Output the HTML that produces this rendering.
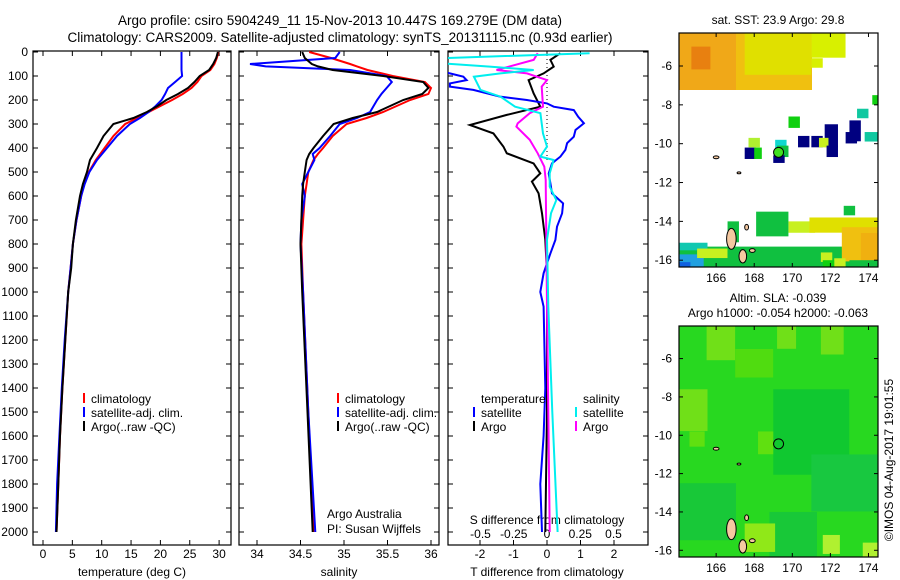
<!DOCTYPE html>
<html><head><meta charset="utf-8"><style>
html,body{margin:0;padding:0;background:#fff;}
svg{display:block;font-family:"Liberation Sans",sans-serif;}
</style></head><body>
<svg id="fig" width="900" height="580" viewBox="0 0 900 580" xmlns="http://www.w3.org/2000/svg">
<text x="340" y="25" font-size="13.5" text-anchor="middle">Argo profile: csiro 5904249_11 15-Nov-2013 10.447S 169.279E (DM data)</text>
<text x="340" y="42" font-size="13.5" text-anchor="middle">Climatology: CARS2009. Satellite-adjusted climatology: synTS_20131115.nc (0.93d earlier)</text>
<g id="p1"></g>
<g id="p2"></g>
<g id="p3"></g>
<g id="m1"></g>
<g id="m2"></g>
<text transform="translate(893,460) rotate(-90)" font-size="12" text-anchor="middle">©IMOS 04-Aug-2017 19:01:55</text>
</svg>
<script>
// ---- data ----
const tDepths=[0,25,50,75,100,125,150,175,200,225,250,275,300,350,400,450,500,550,600,700,800,900,1000,1200,1400,1600,1800,2000];
const tempArgo=[29.8,29.5,29.0,28.3,26.7,25.8,24.7,23.0,21.0,19.5,17.7,15.4,12.0,10.3,9.2,8.0,7.5,6.8,6.3,5.6,5.1,4.8,4.3,3.8,3.3,2.9,2.6,2.3];
const tempClim=[29.9,29.6,29.2,28.5,27.0,26.3,25.3,23.8,22.0,20.0,18.0,16.0,14.0,12.0,10.5,9.0,7.8,7.0,6.5,5.7,5.1,4.7,4.3,3.8,3.3,2.9,2.6,2.3];
const tempSat=[23.6,23.6,23.6,23.6,23.7,22.5,21.3,20.8,20.2,19.2,18.0,16.5,14.8,12.6,10.9,9.2,7.9,7.1,6.5,5.7,5.1,4.7,4.3,3.7,3.2,2.8,2.4,2.2];
const sDepths=[0,25,50,60,75,100,125,150,175,200,250,275,300,350,400,425,450,500,550,600,700,800,1000,1500,2000];
const salArgo=[34.52,34.55,34.63,34.70,34.87,35.45,35.91,35.97,35.90,35.68,35.38,35.10,34.88,34.76,34.65,34.60,34.57,34.55,34.53,34.52,34.51,34.50,34.52,34.58,34.64];
const salClim=[34.60,34.85,35.07,35.15,35.27,35.56,35.93,36.00,35.97,35.76,35.45,35.26,35.03,34.87,34.76,34.70,34.65,34.59,34.57,34.55,34.53,34.51,34.53,34.59,34.65];
const salSat=[34.95,34.90,33.92,34.10,35.07,35.49,35.55,35.49,35.43,35.38,35.30,35.15,34.95,34.84,34.72,34.64,34.66,34.59,34.52,34.55,34.51,34.50,34.53,34.59,34.67];
const dTArgoDepths=[5,33,61,89,117,172,228,262,304,339,394,422,464,506,540,589,672,783,922,1061,1500,2000];
const dTArgo=[0.4,0.1,0.2,-0.1,-0.55,-0.4,-0.2,-1.2,-2.3,-1.6,-1.3,-1.2,-0.4,-0.2,-0.45,-0.25,-0.15,-0.05,0,0,0,-0.05];
const dTSatDepths=[5,61,89,103,117,131,144,158,186,200,214,228,242,270,297,325,353,380,408,436,464,506,547,589,631,672,728,783,839,922,1000,1061,1400,1600,1800,2000];
const dTSat=[-3.5,-3.5,-2.9,-2.5,-2.4,-2.9,-2.9,-2.2,-1.4,-0.6,0,0.2,0.8,0.93,1.1,0.85,0.8,0.6,0.55,0.4,0.15,0.05,0.1,0.15,0.48,0.45,0.3,0.25,0.1,-0.1,-0.2,-0.1,-0.05,-0.1,-0.2,-0.15];
const dSArgoDepths=[5,33,75,89,117,144,228,255,297,311,366,422,478,533,1061,1500,2000];
const dSArgo=[-0.07,-0.1,-0.38,-0.15,0,-0.04,-0.03,-0.13,-0.22,-0.23,-0.13,-0.07,-0.02,-0.01,0,0.01,0.02];
const dSSatDepths=[5,26,47,61,75,89,103,158,186,228,255,339,394,436,450,506,561,617,672,783,1061,1500,2000];
const dSSat=[0.32,-0.8,-0.8,-0.43,-0.1,-0.35,-0.55,-0.5,-0.35,-0.24,-0.05,-0.03,0,-0.05,0.05,0.02,0.02,0.07,0.03,0,0.01,0.04,0.08];
const depthTicks=[0,100,200,300,400,500,600,700,800,900,1000,1100,1200,1300,1400,1500,1600,1700,1800,1900,2000];
const tempTicks=[0,5,10,15,20,25,30];
const salTicks=[34,34.5,35,35.5,36];
const salTickLabels=["34","34.5","35","35.5","36"];
const dTTicks=[-2,-1,0,1,2];
const dSTicks=[-0.5,-0.25,0,0.25,0.5];
const dSTickLabels=["-0.5","-0.25","0","0.25","0.5"];
const lonTicks=[166,168,170,172,174];
const latTicks=[-6,-8,-10,-12,-14,-16];
const argoLon=169.279, argoLat=-10.447;

const NS="http://www.w3.org/2000/svg";
function mk(parent,tag,attrs,text){const e=document.createElementNS(NS,tag);for(const k in attrs)e.setAttribute(k,attrs[k]);if(text!==undefined)e.textContent=text;parent.appendChild(e);return e;}
const TOP=51,BOT=545;
const yD=d=>52+d*0.24;

function panel(g,x0,x1,clipId){
  const r=mk(g,'rect',{x:x0,y:TOP,width:x1-x0,height:BOT-TOP,fill:'none',stroke:'#000','stroke-width':1.2});
  
  
  const cp=mk(document.getElementById('fig'),'clipPath',{id:clipId});
  mk(cp,'rect',{x:x0,y:TOP,width:x1-x0,height:BOT-TOP});
  depthTicks.forEach(d=>{mk(g,'line',{x1:x0,x2:x0+5,y1:yD(d),y2:yD(d),stroke:'#000'});mk(g,'line',{x1:x1,x2:x1-5,y1:yD(d),y2:yD(d),stroke:'#000'});});
}
function line(g,depths,vals,fx,color,name,clip,w){
  let d='';depths.forEach((dp,i)=>{d+=(i?'L':'M')+fx(vals[i]).toFixed(1)+','+yD(dp).toFixed(1);});
  const p=mk(g,'path',{d:d,fill:'none',stroke:color,'stroke-width':w||2,'clip-path':'url(#'+clip+')'});
  
  
}
function legend(g,x,y,color,label,name){
  mk(g,'line',{x1:x,x2:x,y1:y-10,y2:y,stroke:color,'stroke-width':2});
  const t=mk(g,'text',{x:x+7,y:y,'font-size':12},label);
  
  
}

// Panel 1
const g1=document.getElementById('p1');
const xT=v=>43+v*5.87;
panel(g1,33,231,'c1');
depthTicks.forEach(d=>{const t=mk(g1,'text',{x:28,y:yD(d)+4,'font-size':12,'text-anchor':'end'},String(d));});
tempTicks.forEach(v=>{mk(g1,'line',{x1:xT(v),x2:xT(v),y1:BOT,y2:BOT-5,stroke:'#000'});mk(g1,'line',{x1:xT(v),x2:xT(v),y1:TOP,y2:TOP+5,stroke:'#000'});const t=mk(g1,'text',{x:xT(v),y:558,'font-size':12,'text-anchor':'middle'},String(v));});
mk(g1,'text',{x:132,y:576,'font-size':12,'text-anchor':'middle',},'temperature (deg C)');
line(g1,tDepths,tempClim,xT,'#f00','temp-climatology-line','c1');
line(g1,tDepths,tempSat,xT,'#00f','temp-satellite-line','c1');
line(g1,tDepths,tempArgo,xT,'#000','temp-argo-line','c1');
legend(g1,84,403,'#f00','climatology','legend-climatology');
legend(g1,84,417,'#00f','satellite-adj. clim.','legend-satellite');
legend(g1,84,431,'#000','Argo(..raw -QC)','legend-argo');

// Panel 2
const g2=document.getElementById('p2');
const xS=v=>257+(v-34)*87;
panel(g2,239,439,'c2');
salTicks.forEach((v,i)=>{mk(g2,'line',{x1:xS(v),x2:xS(v),y1:BOT,y2:BOT-5,stroke:'#000'});mk(g2,'line',{x1:xS(v),x2:xS(v),y1:TOP,y2:TOP+5,stroke:'#000'});const t=mk(g2,'text',{x:xS(v),y:558,'font-size':12,'text-anchor':'middle'},salTickLabels[i]);});
mk(g2,'text',{x:339,y:576,'font-size':12,'text-anchor':'middle',},'salinity');
line(g2,sDepths,salClim,xS,'#f00','sal-climatology-line','c2');
line(g2,sDepths,salSat,xS,'#00f','sal-satellite-line','c2');
line(g2,sDepths,salArgo,xS,'#000','sal-argo-line','c2');
legend(g2,338,403,'#f00','climatology','legend-climatology');
legend(g2,338,417,'#00f','satellite-adj. clim.','legend-satellite');
legend(g2,338,431,'#000','Argo(..raw -QC)','legend-argo');
mk(g2,'text',{x:327,y:518,'font-size':12,},'Argo Australia');
mk(g2,'text',{x:327,y:533,'font-size':12,},'PI: Susan Wijffels');

// Panel 3
const g3=document.getElementById('p3');
const xDT=v=>547+v*33.5, xDS=v=>547+v*133;
panel(g3,448,648,'c3');
dTTicks.forEach(v=>{mk(g3,'line',{x1:xDT(v),x2:xDT(v),y1:BOT,y2:BOT-5,stroke:'#000'});mk(g3,'line',{x1:xDT(v),x2:xDT(v),y1:TOP,y2:TOP+5,stroke:'#000'});const t=mk(g3,'text',{x:xDT(v),y:558,'font-size':12,'text-anchor':'middle'},String(v));});
dSTicks.forEach((v,i)=>{const t=mk(g3,'text',{x:xDS(v),y:538,'font-size':12,'text-anchor':'middle'},dSTickLabels[i]);});
mk(g3,'text',{x:547,y:524,'font-size':12,'text-anchor':'middle',},'S difference from climatology');
mk(g3,'text',{x:547,y:576,'font-size':12,'text-anchor':'middle',},'T difference from climatology');
mk(g3,'line',{x1:547,x2:547,y1:TOP,y2:yD(450),stroke:'#000','stroke-dasharray':'1,3',});
line(g3,dTArgoDepths,dTArgo,xDT,'#000','tdiff-argo-line','c3');
line(g3,dTSatDepths,dTSat,xDT,'#00f','tdiff-satellite-line','c3');
line(g3,dSArgoDepths,dSArgo,xDS,'#f0f','sdiff-argo-line','c3');
line(g3,dSSatDepths,dSSat,xDS,'#0ee','sdiff-satellite-line','c3');
mk(g3,'text',{x:481,y:403,'font-size':12,},'temperature');
mk(g3,'text',{x:583,y:403,'font-size':12,},'salinity');
legend(g3,474,417,'#00f','satellite','legend-t-satellite');
legend(g3,474,431,'#000','Argo','legend-t-argo');
legend(g3,576,417,'#0ee','satellite','legend-s-satellite');
legend(g3,576,431,'#f0f','Argo','legend-s-argo');

// Maps
function map(id,top,bot,latTop,cells,base){
  const g=document.getElementById(id);
  const L=679,R=878,lonL=164.05,lonR=174.5,latB=-16.35;
  const X=lon=>L+(lon-lonL)/(lonR-lonL)*(R-L);
  const Y=lat=>top+(latTop-lat)/(latTop-latB)*(bot-top);
  const cp=mk(document.getElementById('fig'),'clipPath',{id:'clip'+id});
  mk(cp,'rect',{x:L,y:top,width:R-L,height:bot-top});
  const cg=mk(g,'g',{'clip-path':'url(#clip'+id+')'});
  mk(cg,'rect',{x:L,y:top,width:R-L,height:bot-top,fill:base});
  cells.forEach(c=>{const r=mk(cg,'rect',{x:X(c[0]),y:Y(c[1]),width:(c[2])*19,height:c[3]*19,fill:c[4]});});
  // islands
  [[166.8,-14.9,0.5,1.1],[167.4,-15.8,0.4,0.7],[166,-10.7,0.3,0.15],[167.2,-11.5,0.2,0.1],[167.6,-14.3,0.2,0.3],[167.9,-15.5,0.3,0.2]].forEach(s=>{const e=mk(cg,'ellipse',{cx:X(s[0]),cy:Y(s[1]),rx:s[2]*19/2,ry:s[3]*19/2,fill:'#f4c8a0',stroke:'#000','stroke-width':1});});
  mk(g,'rect',{x:L,y:top,width:R-L,height:bot-top,fill:'none',stroke:'#000','stroke-width':1.2});
  lonTicks.forEach(v=>{mk(g,'line',{x1:X(v),x2:X(v),y1:bot,y2:bot-4,stroke:'#000'});mk(g,'line',{x1:X(v),x2:X(v),y1:top,y2:top+4,stroke:'#000'});const t=mk(g,'text',{x:X(v),y:bot+15,'font-size':12,'text-anchor':'middle'},String(v));});
  latTicks.forEach(v=>{mk(g,'line',{x1:L,x2:L+4,y1:Y(v),y2:Y(v),stroke:'#000'});mk(g,'line',{x1:R,x2:R-4,y1:Y(v),y2:Y(v),stroke:'#000'});const t=mk(g,'text',{x:672,y:Y(v)+4,'font-size':12,'text-anchor':'end'},String(v));});
  const c=mk(g,'circle',{cx:X(argoLon),cy:Y(argoLat),r:5,fill:id==='m1'?'#40e020':'none',stroke:'#000','stroke-width':1});
  
  
}
const sstCells=[
 [164.05,-4.3,7,3.0,'#f0c010'],[164.05,-4.3,3,3.0,'#f0a818'],[164.7,-5.0,1,1.2,'#e88010'],[167.5,-4.3,3.5,2.2,'#e0e000'],[171,-4.3,1.8,1.3,'#d8f000'],[171,-5.6,0.6,0.5,'#d8f000'],
 [169.8,-8.6,0.6,0.6,'#10d010'],[170.3,-9.6,0.6,0.6,'#000080'],[171.0,-9.6,0.6,0.6,'#000080'],[171.7,-9.0,0.7,1.2,'#000080'],[173,-8.8,0.6,1.1,'#000080'],[172.8,-9.4,0.6,0.6,'#000080'],[173.8,-9.4,0.7,0.5,'#10c8a0'],[173.4,-8.2,0.6,0.5,'#10c8a0'],[174.2,-7.5,0.3,0.5,'#10d010'],
 [169.1,-9.8,0.6,0.6,'#10d8d0'],[171.4,-9.7,0.5,0.5,'#c8f020'],[171.8,-10.1,0.6,0.6,'#000080'],[167.7,-9.7,0.6,0.5,'#b0f030'],[167.5,-10.2,0.6,0.6,'#000080'],[168.0,-10.2,0.4,0.6,'#10d010'],[169.2,-10.1,0.6,0.6,'#10c040'],[169,-10.6,0.6,0.4,'#000080'],
 [164.05,-15.3,11,1.2,'#10c040'],[164.05,-15.7,1.3,0.8,'#20a0e0'],[164.05,-16.1,0.6,0.4,'#1060e0'],[164.05,-15.1,1.5,0.4,'#10c8b0'],[165,-15.4,1.6,0.5,'#c8f020'],[166.6,-14,0.6,1.1,'#10c040'],[168.1,-13.5,1.7,1.3,'#10c040'],[169.8,-14.0,1.4,0.6,'#c8f020'],
 [170.9,-13.8,3.6,0.8,'#e0e000'],[172.6,-14.3,1.9,1.8,'#f0c010'],[173.6,-14.6,0.9,1.6,'#f0b010'],[171.5,-15.6,0.6,0.5,'#c8f020'],[172.2,-15.9,0.6,0.5,'#c8f020'],[171.6,-16.0,0.6,0.5,'#10d010'],[173,-16.0,1.5,0.5,'#10c040'],[172.7,-13.2,0.6,0.5,'#10c040']];
const slaCells=[
 [164.05,-7.6,1.5,2.2,'#70e018'],[165.5,-4.3,1.5,1.8,'#70e018'],[167,-5.5,2,1.5,'#50dc10'],[169.2,-4.3,1,1.2,'#70e018'],[171.5,-4.3,1.2,1.5,'#70e018'],
 [169,-7.6,4,4.5,'#10c830'],[171,-11,3.5,3,'#18c840'],[164.05,-12.5,3,3,'#18c838'],[168.8,-14,2.5,2.5,'#18c838'],[167.5,-14.6,1.6,1.5,'#90e818'],[171.6,-15.2,0.9,1,'#b0f030'],[173.7,-15.6,0.8,0.8,'#b0f030'],[164.6,-9.8,0.8,0.8,'#60e010'],[168.2,-9.8,0.8,1.2,'#60e010']];
map('m1',33,267,-4.3,sstCells,'#ffffff');
map('m2',326,557,-4.3,slaCells,'#28d820');
mk(document.getElementById('m1'),'text',{x:778,y:24,'font-size':12,'text-anchor':'middle',},'sat. SST: 23.9 Argo: 29.8');
mk(document.getElementById('m2'),'text',{x:778,y:302,'font-size':12,'text-anchor':'middle',},'Altim. SLA: -0.039');
mk(document.getElementById('m2'),'text',{x:778,y:317,'font-size':12,'text-anchor':'middle',},'Argo h1000: -0.054 h2000: -0.063');
</script>
</body></html>
